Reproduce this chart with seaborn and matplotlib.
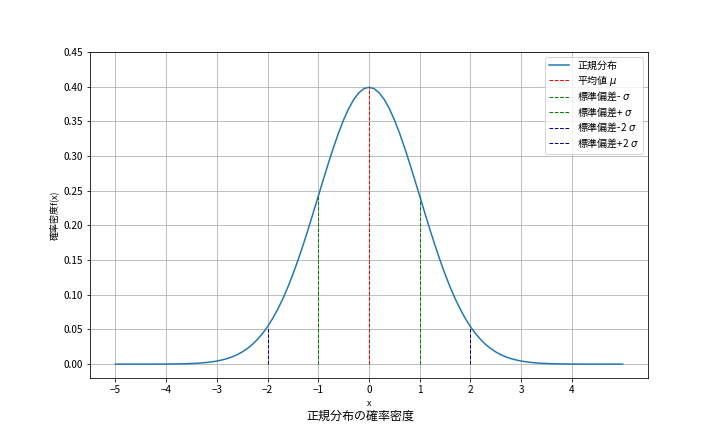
import matplotlib
matplotlib.use("Agg")
import matplotlib.pyplot as plt
import seaborn as sns
import numpy as np
import pandas as pd

# curve values, x = 0.0, 0.1, ... 5.0 (the curve is symmetric)
half_x = [round(0.1 * i, 1) for i in range(51)]
half_pdf = [
    0.3989, 0.3970, 0.3910, 0.3814, 0.3683, 0.3521, 0.3332, 0.3123, 0.2897, 0.2661,
    0.2420, 0.2179, 0.1942, 0.1714, 0.1497, 0.1295, 0.1109, 0.0940, 0.0790, 0.0656,
    0.0540, 0.0440, 0.0355, 0.0283, 0.0224, 0.0175, 0.0136, 0.0104, 0.0079, 0.0060,
    0.0044, 0.0033, 0.0024, 0.0017, 0.0012, 0.0009, 0.0006, 0.0004, 0.0003, 0.0002,
    0.0001, 0.0001, 0.0001, 0.0000, 0.0000, 0.0000, 0.0000, 0.0000, 0.0000, 0.0000,
    0.0000,
]
x_vals = [-v for v in half_x[::-1]] + half_x[1:]
pdf_vals = half_pdf[::-1] + half_pdf[1:]

# reference lines: position, height, label, colour
line_x = [0, -1, 1, -2, 2]
line_h = [0.3989, 0.2420, 0.2420, 0.0540, 0.0540]
line_labels = ["平均値 $\\mu$", "標準偏差- $\\sigma$", "標準偏差+ $\\sigma$",
               "標準偏差-2 $\\sigma$", "標準偏差+2 $\\sigma$"]
line_colors = ["red", "green", "green", "darkblue", "darkblue"]

x_ticks = list(range(-5, 5))
y_ticks = [round(0.05 * i, 2) for i in range(10)]

plt.rcParams["font.family"] = ["Noto Sans CJK JP", "DejaVu Sans"]

df = pd.DataFrame({"x": x_vals, "f": pdf_vals})

fig, ax = plt.subplots(figsize=(10, 6), dpi=72)
fig.subplots_adjust(left=0.125, right=0.9, top=0.88, bottom=0.125)
sns.lineplot(data=df, x="x", y="f", ax=ax, color="#1f77b4", linewidth=1.5, label="正規分布")

# dashed lines from the axis up to the curve
for xv, h, lab, c in zip(line_x, line_h, line_labels, line_colors):
    ax.plot([xv, xv], [0, h], color=c, linestyle="--", linewidth=1.0, label=lab)

ax.set_ylim(-0.02, 0.45)
ax.set_xticks(x_ticks)
ax.set_yticks(y_ticks)
ax.yaxis.set_major_formatter(matplotlib.ticker.FormatStrFormatter("%.2f"))
ax.tick_params(labelsize=10)
ax.set_xlabel("x", fontsize=9)
ax.set_ylabel("確率密度f(x)", fontsize=9)
ax.grid(True, color="#b0b0b0", linewidth=0.8)
ax.legend(loc="upper right", fontsize=10, labelspacing=0.2, handlelength=2.0,
          borderpad=0.4)
fig.text(0.5, 0.037, "正規分布の確率密度", ha="center", va="center", fontsize=12)

fig.savefig("out.png", dpi=72)
